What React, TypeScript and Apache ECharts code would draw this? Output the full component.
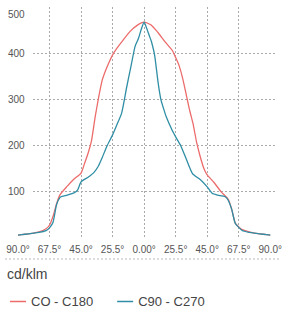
import React, { useEffect, useRef } from "react";
import * as echarts from "echarts";

const xTickLabels = ["90.0°", "67.5°", "45.0°", "25.5°", "0.00°", "25.5°", "45.0°", "67.5°", "90.0°"];
const yTickValues = [100, 200, 300, 400, 500];
const seriesNames = ["CO - C180", "C90 - C270"];

const c0Angles = [-90, -85, -80, -75, -70, -67.5, -65, -62.5, -60, -55, -50, -45, -42.5, -40, -37.5, -35, -32.5, -30, -27.5, -25, -22.5, -20, -15, -10, -5, 0, 5, 10, 15, 20, 22.5, 25, 27.5, 30, 32.5, 35, 37.5, 40, 42.5, 45, 50, 55, 60, 62.5, 65, 67.5, 70, 75, 80, 85, 90];
const c0Values = [4, 6, 8, 11, 18, 26, 45, 72, 92, 110, 126, 139, 160, 182, 210, 260, 303, 340, 362, 380, 396, 408, 428, 447, 460, 467, 461, 444, 424, 406, 390, 372, 345, 310, 275, 245, 205, 175, 150, 135, 118, 98, 82, 60, 30, 22, 16, 11, 8, 6, 4];

const c90Angles = [-90, -85, -80, -75, -70, -67.5, -65, -62.5, -60, -57.5, -55, -50, -47.5, -45, -40, -35.9, -32.5, -30, -26.5, -22.5, -20, -16, -12.5, -10, -6.5, -4, -2, 0, 2, 4, 5.2, 7.5, 10, 12, 14, 15.7, 20, 23, 26.2, 30, 34.5, 40, 45, 48.5, 52.5, 57.5, 60, 62.5, 65, 70, 75, 80, 85, 90];
const c90Values = [4, 6, 8, 10, 14, 20, 32, 70, 86, 89, 91, 96, 102, 120, 130, 140, 155, 172, 198, 222, 240, 270, 325, 362, 414, 432, 452, 467, 452, 435, 425, 395, 335, 298, 278, 262, 232, 215, 198, 170, 138, 125, 109, 95, 91, 88, 80, 60, 30, 14, 10, 8, 6, 4];

const RED = "#ec6b6b";
const TEAL = "#2f8ea5";
const FONT = "'Liberation Sans', Arial, sans-serif";

export default function App() {
  const ref = useRef<HTMLDivElement>(null);
  useEffect(() => {
    document.body.style.margin = "0";
    if (!ref.current) return;
    const chart = echarts.init(ref.current, null, { renderer: "svg" });
    const zip = (a: number[], v: number[]) => a.map((x, i) => [x, v[i]]);
    chart.setOption({
      animation: false,
      textStyle: { fontFamily: FONT },
      title: {
        text: "cd/klm",
        left: 7,
        top: 267,
        padding: 0,
        textStyle: { fontSize: 14, fontWeight: "normal", color: "#444", fontFamily: FONT },
      },
      legend: {
        left: 10,
        top: 295,
        padding: 0,
        itemWidth: 16,
        itemHeight: 1.5,
        itemGap: 24,
        textStyle: { fontSize: 13, color: "#444", fontFamily: FONT },
        data: seriesNames.map((n) => ({ name: n, icon: "rect" })),
      },
      grid: [
        { left: 18, right: 11.5, top: 7, bottom: 76 },
        { left: 33, right: 10, top: 7, bottom: 76 },
      ],
      xAxis: [
        {
          type: "value",
          gridIndex: 0,
          min: -90,
          max: 90,
          interval: 22.5,
          axisLine: { show: false },
          axisTick: { show: false },
          splitLine: {
            show: true,
            showMinLine: false,
            showMaxLine: false,
            lineStyle: { color: "#aaa", type: [2, 2], width: 1 },
          },
          axisLabel: {
            margin: 7,
            fontSize: 10,
            color: "#555",
            fontFamily: FONT,
            formatter: (v: number) => xTickLabels[Math.round((v + 90) / 22.5)] ?? "",
          },
        },
        { type: "value", gridIndex: 1, min: 0, max: 1, show: false },
      ],
      yAxis: [
        { type: "value", gridIndex: 0, min: 0, max: 500, show: false },
        {
          type: "value",
          gridIndex: 1,
          min: 0,
          max: 500,
          interval: 100,
          axisLine: { show: false },
          axisTick: { show: false },
          splitLine: {
            show: true,
            showMinLine: false,
            showMaxLine: false,
            lineStyle: { color: "#aaa", type: [2, 2], width: 1 },
          },
          axisLabel: {
            align: "left",
            margin: 25,
            fontSize: 10,
            color: "#555",
            fontFamily: FONT,
            formatter: (v: number) =>
              yTickValues.includes(v) ? (v === 500 ? "{t|" + v + "}" : String(v)) : "",
            rich: { t: { padding: [14, 0, 0, 0], fontSize: 10, color: "#555", fontFamily: FONT } },
          },
        },
      ],
      graphic: [
        {
          type: "line",
          shape: { x1: 5, y1: 259, x2: 280, y2: 259 },
          style: { stroke: "#bbb", lineWidth: 1, lineDash: [2, 2] },
          silent: true,
        },
      ],
      series: [
        {
          name: seriesNames[0],
          type: "line",
          xAxisIndex: 0,
          yAxisIndex: 0,
          data: zip(c0Angles, c0Values),
          showSymbol: false,
          smooth: 0.2,
          lineStyle: { color: RED, width: 1.3 },
          itemStyle: { color: RED },
          z: 3,
        },
        {
          name: seriesNames[1],
          type: "line",
          xAxisIndex: 0,
          yAxisIndex: 0,
          data: zip(c90Angles, c90Values),
          showSymbol: false,
          smooth: 0.2,
          lineStyle: { color: TEAL, width: 1.3 },
          itemStyle: { color: TEAL },
          z: 4,
        },
      ],
    });
    return () => chart.dispose();
  }, []);
  return <div ref={ref} style={{ width: 285, height: 313 }} />;
}
